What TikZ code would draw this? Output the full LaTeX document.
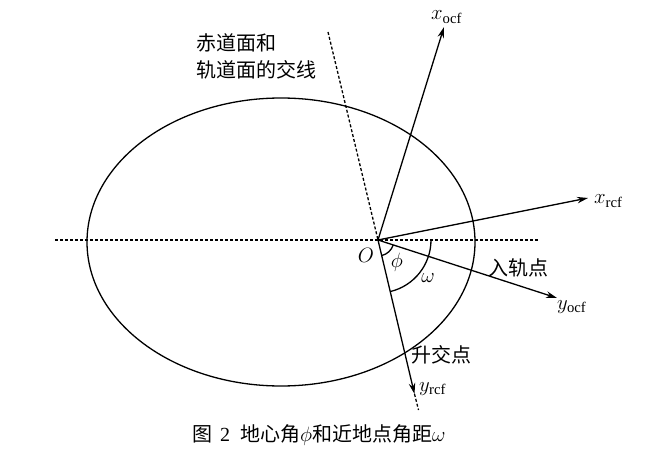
\documentclass[tikz,border=0pt]{standalone}
\usepackage{fontspec}
\setmainfont{Liberation Serif}
\newfontfamily\cjk{Noto Sans CJK SC}
\usetikzlibrary{arrows.meta,calc}
\begin{document}
\begin{tikzpicture}[x=1pt,y=-1pt,
  axis/.style={line width=1.3pt,-{Stealth[length=11pt,width=6.5pt]}},
  dashline/.style={line width=1.3pt,dash pattern=on 3pt off 2pt},
  cjklabel/.style={inner sep=0pt,font=\cjk\fontsize{20}{24}\selectfont},
  mathlabel/.style={inner sep=0pt,font=\fontsize{21}{24}\selectfont}]
\path[use as bounding box] (0,0) rectangle (658,465);
% origin and key points
\coordinate (O) at (378,240);
\coordinate (hl) at (55,240);
\coordinate (hr) at (539,240);
\coordinate (ltop) at ($(O)+(-50,-208)$);
% ellipse
\draw[line width=1.3pt] (281,242) ellipse [x radius=194, y radius=144];
% equatorial line
\draw[dashline] (hl) -- (hr);
% line of nodes
\coordinate (ytip) at (414.5,394);
\coordinate (lend) at (418.5,410);
\draw[dashline] (ltop) -- (O);
\draw[dashline] (ytip) -- (lend);
% axes
\coordinate (xotip) at (444,27);
\coordinate (xrtip) at (588,198);
\coordinate (yotip) at (557,298);
\draw[axis] (O) -- (xotip);
\draw[axis] (O) -- (xrtip);
\draw[axis] (O) -- (yotip);
\draw[axis] (O) -- (ytip);
% angle arcs
\draw[line width=1.3pt] ($(O)+(17.95:16)$) arc[start angle=17.95,end angle=76.5,radius=16];
\draw[line width=1.3pt] ($(O)+(0:53)$) arc[start angle=0,end angle=76.5,radius=53];
% labels
\node[cjklabel,anchor=west] (t1) at (196,42.5) {赤道面和};
\node[cjklabel,anchor=west] (t2) at (196,70) {轨道面的交线};
\node[cjklabel] (rgd) at (518,268) {入轨点};
\node[cjklabel] (sjd) at (441,355) {升交点};
\node[mathlabel,anchor=base west] (lxo) at (431,20) {$x_{\mathrm{ocf}}$};
\node[mathlabel,anchor=base west] (lxr) at (594,204) {$x_{\mathrm{rcf}}$};
\node[mathlabel,anchor=base west] (lyo) at (557,309) {$y_{\mathrm{ocf}}$};
\node[mathlabel,anchor=base west] (lyr) at (419,391) {$y_{\mathrm{rcf}}$};
\node[mathlabel] (lO) at (366,255) {$O$};
\node[mathlabel] (lphi) at (397,262) {$\phi$};
\node[mathlabel] (lom) at (428,278) {$\omega$};
\node[inner sep=0pt,anchor=west,font=\fontsize{20}{24}\selectfont] (cap) at (192,435)
  {{\cjk 图}\hspace{8pt}2\hspace{10pt}{\cjk 地心角}$\phi${\cjk 和近地点角距}$\omega$};
\end{tikzpicture}
\end{document}
